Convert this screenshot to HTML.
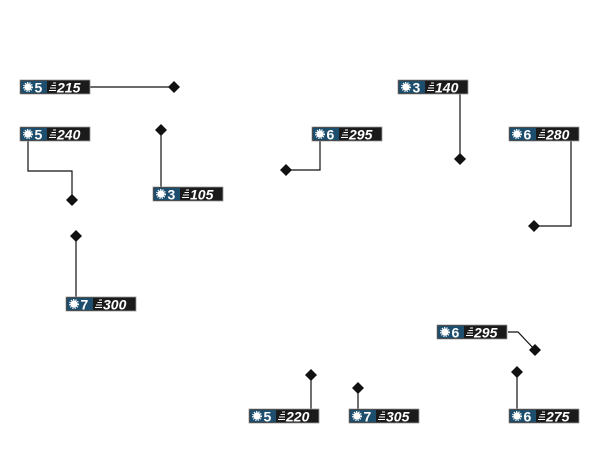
<!DOCTYPE html>
<html><head><style>body{margin:0;background:#fff}</style></head><body>
<svg width="600" height="468" xmlns="http://www.w3.org/2000/svg" font-family="Liberation Sans, sans-serif" font-weight="bold">
<defs>
<g id="ic"><circle r="3.6" fill="#fff"/><circle r="4.3" fill="none" stroke="#fff" stroke-width="1.4" stroke-dasharray="1.2 1.2"/></g>
<g id="ln" stroke="#fff" stroke-width="1"><line x1="3" y1="-4" x2="6" y2="-4"/><line x1="1.5" y1="-1.5" x2="6" y2="-1.5"/><line x1="0" y1="1" x2="6" y2="1"/><line x1="-1" y1="3.5" x2="6" y2="3.5"/></g>
<g id="box"><rect width="70" height="14" fill="#1b1b1b" stroke="#999" stroke-width="0.8"/><rect x="1" y="1" width="26" height="12" fill="#1d4e6e"/><use href="#ic" x="8" y="7"/><use href="#ln" x="30" y="7"/></g>
</defs>
<g stroke="#111" stroke-width="1.2" fill="none">
<polyline points="90,87 174,87"/>
<polyline points="28,141 28,171 72,171 72,200"/>
<polyline points="161,130 161,187"/>
<polyline points="76,236 76,297"/>
<polyline points="320,141 320,170 286,170"/>
<polyline points="460,94 460,159"/>
<polyline points="571,141 571,226 534,226"/>
<polyline points="508,332 518,332 535,350"/>
<polyline points="517,372 517,409"/>
<polyline points="311,375 311,409"/>
<polyline points="358,388 358,409"/>
</g>
<g fill="#111">
<path d="M174,81l6,6l-6,6l-6,-6z"/>
<path d="M72,194l6,6l-6,6l-6,-6z"/>
<path d="M161,124l6,6l-6,6l-6,-6z"/>
<path d="M76,230l6,6l-6,6l-6,-6z"/>
<path d="M286,164l6,6l-6,6l-6,-6z"/>
<path d="M460,153l6,6l-6,6l-6,-6z"/>
<path d="M534,220l6,6l-6,6l-6,-6z"/>
<path d="M535,344l6,6l-6,6l-6,-6z"/>
<path d="M517,366l6,6l-6,6l-6,-6z"/>
<path d="M311,369l6,6l-6,6l-6,-6z"/>
<path d="M358,382l6,6l-6,6l-6,-6z"/>
</g>
<g font-size="14" fill="#fff">
<g transform="translate(20,80)"><use href="#box"/><text x="14.5" y="12.5">5</text><text x="37" y="12.5" font-style="italic">215</text></g>
<g transform="translate(20,127)"><use href="#box"/><text x="14.5" y="12.5">5</text><text x="37" y="12.5" font-style="italic">240</text></g>
<g transform="translate(153,187)"><use href="#box"/><text x="14.5" y="12.5">3</text><text x="37" y="12.5" font-style="italic">105</text></g>
<g transform="translate(66,297)"><use href="#box"/><text x="14.5" y="12.5">7</text><text x="37" y="12.5" font-style="italic">300</text></g>
<g transform="translate(312,127)"><use href="#box"/><text x="14.5" y="12.5">6</text><text x="37" y="12.5" font-style="italic">295</text></g>
<g transform="translate(398,80)"><use href="#box"/><text x="14.5" y="12.5">3</text><text x="37" y="12.5" font-style="italic">140</text></g>
<g transform="translate(509,127)"><use href="#box"/><text x="14.5" y="12.5">6</text><text x="37" y="12.5" font-style="italic">280</text></g>
<g transform="translate(437,325)"><use href="#box"/><text x="14.5" y="12.5">6</text><text x="37" y="12.5" font-style="italic">295</text></g>
<g transform="translate(509,409)"><use href="#box"/><text x="14.5" y="12.5">6</text><text x="37" y="12.5" font-style="italic">275</text></g>
<g transform="translate(249,409)"><use href="#box"/><text x="14.5" y="12.5">5</text><text x="37" y="12.5" font-style="italic">220</text></g>
<g transform="translate(349,409)"><use href="#box"/><text x="14.5" y="12.5">7</text><text x="37" y="12.5" font-style="italic">305</text></g>
</g>
</svg>
</body></html>
